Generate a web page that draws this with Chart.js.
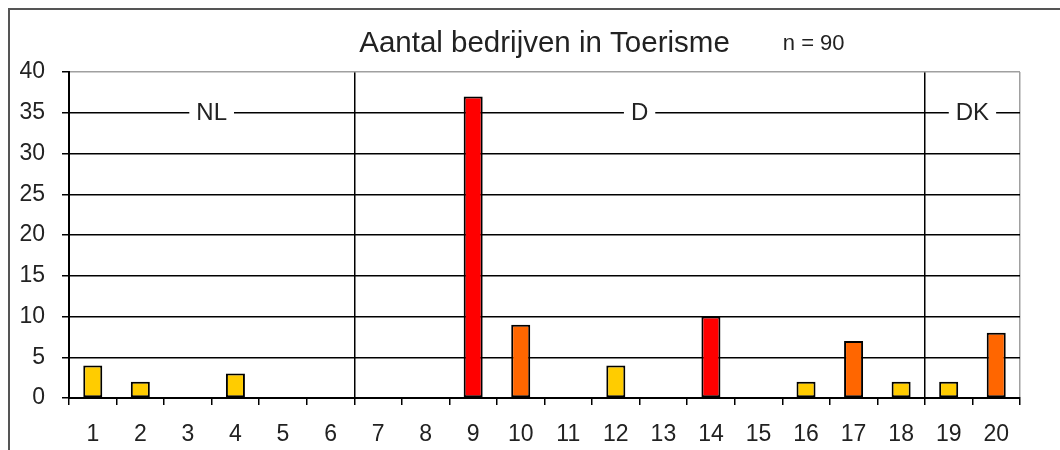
<!DOCTYPE html>
<html>
<head>
<meta charset="utf-8">
<script src="https://cdn.jsdelivr.net/npm/chart.js@4.4.1/dist/chart.umd.min.js"></script>
<style>
  body { margin: 0; background: #fff; }
  #wrap { width: 1060px; height: 450px; }
</style>
</head>
<body>
<div id="wrap"><canvas id="chart" width="1060" height="450"></canvas></div>
<script>
const categories = ['1', '2', '3', '4', '5', '6', '7', '8', '9', '10',
  '11', '12', '13', '14', '15', '16', '17', '18', '19', '20'];
const counts = [4, 2, 0, 3, 0, 0, 0, 0, 37, 9, 0, 4, 0, 10, 0, 2, 7, 2, 2, 8];

// landen: eerste en laatste categorie van elke groep
const groupNames = ['NL', 'D', 'DK'];
const groupFirst = ['1', '7', '19'];
const groupLast = ['6', '18', '20'];
const groupLevel = 35;

const yTicks = [0, 5, 10, 15, 20, 25, 30, 35, 40];

const titleText = 'Aantal bedrijven in Toerisme';
const countText = 'n = 90';

const font = '"Liberation Sans", Arial, sans-serif';

function barColor(v)
{
  if (v >= 10) return '#ff0000';
  if (v >= 5) return '#ff6600';
  return '#ffcc00';
}

const separators = groupFirst.slice(1).map(c => categories.indexOf(c));

const extras = {
  id: 'extras',
  beforeDatasetsDraw(chart)
  {
    const ctx = chart.ctx;
    const x = chart.scales.x;
    const y = chart.scales.y;
    const half = (x.getPixelForValue(1) - x.getPixelForValue(0)) / 2;
    const ly = y.getPixelForValue(groupLevel);
    ctx.save();
    ctx.font = '24px ' + font;
    ctx.textAlign = 'center';
    ctx.textBaseline = 'middle';
    groupNames.forEach((name, i) =>
    {
      let a = x.getPixelForValue(categories.indexOf(groupFirst[i])) - half;
      let b = x.getPixelForValue(categories.indexOf(groupLast[i])) + half;
      let cx = (a + b) / 2;
      let w = ctx.measureText(name).width + 14;
      ctx.fillStyle = '#fff';
      ctx.fillRect(cx - w / 2, ly - 12, w, 24);
      ctx.fillStyle = '#222';
      ctx.fillText(name, cx, ly + 1);
    });
    ctx.restore();
  },
  afterDraw(chart)
  {
    const ctx = chart.ctx;
    const area = chart.chartArea;
    ctx.save();
    // buitenrand
    ctx.strokeStyle = '#555';
    ctx.lineWidth = 2;
    ctx.beginPath();
    ctx.moveTo(9, 450);
    ctx.lineTo(9, 9);
    ctx.lineTo(1060, 9);
    ctx.stroke();

    // titel
    ctx.fillStyle = '#222';
    ctx.textBaseline = 'alphabetic';
    ctx.textAlign = 'center';
    ctx.font = '29.5px ' + font;
    let cx = (area.left + area.right) / 2;
    ctx.fillText(titleText, cx, 52);
    let tw = ctx.measureText(titleText).width;
    ctx.textAlign = 'left';
    ctx.font = '22px ' + font;
    ctx.fillText(countText, cx + tw / 2 + 53, 50);
    ctx.restore();
  }
};

new Chart(document.getElementById('chart'), {
  type: 'bar',
  data: {
    labels: categories,
    datasets: [{
      data: counts,
      backgroundColor: ctx => barColor(ctx.raw),
      borderColor: '#000',
      borderWidth: ctx => ctx.raw ? 2 : 0,
      borderSkipped: false,
      barPercentage: 0.4,
      categoryPercentage: 1
    }]
  },
  options: {
    responsive: false,
    animation: false,
    layout: { padding: { left: 8, top: 72, right: 40, bottom: 0 } },
    plugins: {
      legend: { display: false },
      title: { display: false },
      tooltip: { enabled: false }
    },
    scales: {
      x: {
        afterFit: s => { s.height = 52; },
        grid: {
          offset: true,
          color: ctx => ctx.type !== 'tick' ? '#a0a0a0' : (separators.includes(ctx.index) ? '#000' : 'rgba(0,0,0,0)'),
          lineWidth: 1.5,
          tickColor: '#000',
          tickLength: 7
        },
        border: { color: '#000', width: 2 },
        ticks: {
          color: '#222',
          font: { family: font, size: 23 },
          padding: 16,
          maxRotation: 0
        }
      },
      y: {
        min: 0,
        max: 40,
        afterFit: s => { s.width = 61; },
        afterBuildTicks: s => { s.ticks = yTicks.map(v => ({ value: v })); },
        grid: {
          color: ctx => ctx.tick && ctx.tick.value === 40 ? '#a0a0a0' : '#000',
          lineWidth: 1.5,
          tickColor: '#000',
          tickLength: 7
        },
        border: { color: '#000', width: 2 },
        ticks: {
          color: '#222',
          font: { family: font, size: 23 },
          padding: 17
        }
      }
    }
  },
  plugins: [extras]
});
</script>
</body>
</html>
